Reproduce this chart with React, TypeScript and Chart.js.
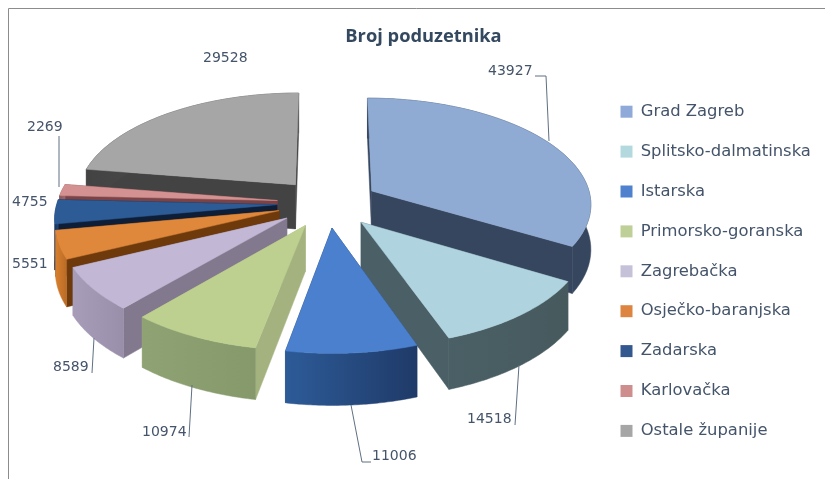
import React, { useEffect, useRef } from "react";
import { Chart, registerables } from "chart.js";

Chart.register(...registerables);

const categories = [
  "Grad Zagreb",
  "Splitsko-dalmatinska",
  "Istarska",
  "Primorsko-goranska",
  "Zagrebačka",
  "Osječko-baranjska",
  "Zadarska",
  "Karlovačka",
  "Ostale županije",
];
const values = [43927, 14518, 11006, 10974, 8589, 5551, 4755, 2269, 29528];

const topColors = ["#8FAAD3", "#AFD3DF", "#4A80CE", "#BDD08F", "#C2B8D6", "#DF873A", "#2C5B96", "#D39291", "#A6A6A6"];
const legendColors = ["#8FAAD8", "#B3D8DE", "#4F81CF", "#BFCF98", "#C5C1D8", "#DC8440", "#33578F", "#CF8E8E", "#A6A6A6"];
const radialColors = ["#36465E", "#4B6066", "#1F3A66", "#A3B27F", "#83798F", "#6E3A0C", "#0E1E36", "#7A4347", "#434343"];
const wallFrom = ["#36465E", "#4B6066", "#2D5B98", "#8FA273", "#A89DB8", "#D87F2E", "#1F4478", "#9C6466", "#555555"];
const wallTo = ["#2E3D54", "#465A5E", "#1F3A68", "#86996B", "#9A8FAA", "#B96C26", "#173663", "#8C5658", "#434343"];

// value labels: text anchor (left, middle) and leader polyline, per slice
const labelAnchors = [
  [488, 71], [467, 419], [372, 456], [142, 432], [53, 367], [12, 264], [12, 202], [27, 127], [203, 58],
];
const leaders = [
  [[535, 76], [546, 76], [549, 141]],
  [[515, 425], [519, 365]],
  [[371, 462], [362, 462], [351, 405]],
  [[189, 437], [192, 385]],
  [[92, 373], [94, 338]],
  [],
  [],
  [[59, 136], [59, 187]],
  [],
];

const TEXT = "#44546A";
const CX = 328;
const CY = 203;
const TILT = 0.48;
const DIST = 2000;
const DEPTH = 45;

function project(u: number, v: number, z: number) {
  const p = 1 / (1 - v / DIST);
  return [CX + u * p, CY + (v * TILT + z) * p];
}

function fillPoly(ctx: CanvasRenderingContext2D, pts: number[][], fill: string | CanvasGradient) {
  ctx.beginPath();
  pts.forEach((q, i) => (i ? ctx.lineTo(q[0], q[1]) : ctx.moveTo(q[0], q[1])));
  ctx.closePath();
  ctx.fillStyle = fill;
  ctx.strokeStyle = fill;
  ctx.lineWidth = 0.5;
  ctx.fill();
  ctx.stroke();
}

const pie3d = {
  id: "pie3d",
  afterLayout(chart: any) {
    chart.legend.left = 597;
    chart.legend.top = 80;
  },
  beforeDatasetsDraw(chart: any) {
    const ctx: CanvasRenderingContext2D = chart.ctx;
    const arcs = chart.getDatasetMeta(0).data;
    const order = arcs
      .map((arc: any, i: number) => {
        const mid = (arc.startAngle + arc.endAngle) / 2;
        return { arc, i, mid, off: arc.options.offset || 0 };
      })
      .sort((a: any, b: any) => Math.sin(a.mid) - Math.sin(b.mid));

    for (const { arc, i, mid, off } of order) {
      const ox = Math.cos(mid) * off;
      const oy = Math.sin(mid) * off;
      const r = arc.outerRadius;
      const n = 48;
      const top: number[][] = [];
      const bottom: number[][] = [];
      for (let k = 0; k <= n; k++) {
        const a = arc.startAngle + ((arc.endAngle - arc.startAngle) * k) / n;
        const u = ox + Math.cos(a) * r;
        const v = oy + Math.sin(a) * r;
        top.push(project(u, v, 0));
        bottom.push(project(u, v, DEPTH));
      }
      const tipT = project(ox, oy, 0);
      const tipB = project(ox, oy, DEPTH);
      fillPoly(ctx, [tipT, top[0], bottom[0], tipB], radialColors[i]);
      fillPoly(ctx, [tipT, top[n], bottom[n], tipB], radialColors[i]);
      const g = ctx.createLinearGradient(top[n][0], 0, top[0][0], 0);
      g.addColorStop(0, wallFrom[i]);
      g.addColorStop(1, wallTo[i]);
      fillPoly(ctx, [...top, ...bottom.slice().reverse()], g);
      fillPoly(ctx, [tipT, ...top], topColors[i]);
    }
    return false;
  },
  afterDraw(chart: any) {
    const ctx: CanvasRenderingContext2D = chart.ctx;
    ctx.save();
    ctx.strokeStyle = "#8C8C8C";
    ctx.lineWidth = 1;
    ctx.beginPath();
    ctx.moveTo(8.5, 479);
    ctx.lineTo(8.5, 8.5);
    ctx.lineTo(825, 8.5);
    ctx.stroke();

    ctx.strokeStyle = "#5F6F82";
    leaders.forEach((pts) => {
      if (!pts.length) return;
      ctx.beginPath();
      pts.forEach((q, k) => (k ? ctx.lineTo(q[0], q[1]) : ctx.moveTo(q[0], q[1])));
      ctx.stroke();
    });

    ctx.fillStyle = TEXT;
    ctx.font = '14px "DejaVu Sans"';
    ctx.textAlign = "left";
    ctx.textBaseline = "middle";
    values.forEach((val, i) => {
      ctx.fillText(String(val), labelAnchors[i][0], labelAnchors[i][1]);
    });
    ctx.restore();
  },
};

export default function App() {
  const ref = useRef<HTMLCanvasElement>(null);
  useEffect(() => {
    const chart = new Chart(ref.current as HTMLCanvasElement, {
      type: "pie",
      data: {
        labels: categories,
        datasets: [{ data: values, backgroundColor: legendColors, borderWidth: 0, offset: 51, radius: 220 } as any],
      },
      options: {
        responsive: false,
        animation: false,
        layout: { padding: { left: 32, right: 10 } },
        plugins: {
          tooltip: { enabled: false },
          title: {
            display: true,
            text: "Broj poduzetnika",
            color: "#34495F",
            font: { family: '"Open Sans"', size: 18.3, weight: "bold" },
            padding: { top: 26, bottom: 10 },
          },
          legend: {
            position: "right",
            align: "start",
            labels: {
              boxWidth: 12,
              boxHeight: 12,
              padding: 23.5,
              color: TEXT,
              font: { family: '"DejaVu Sans"', size: 16.4 },
            },
          },
        },
      },
      plugins: [pie3d],
    } as any);
    return () => chart.destroy();
  }, []);
  return (
    <div style={{ position: "absolute", left: 0, top: 0, width: 825, height: 479, background: "#fff" }}>
      <canvas ref={ref} width={825} height={479} style={{ display: "block", filter: "blur(0.4px)" }} />
    </div>
  );
}
